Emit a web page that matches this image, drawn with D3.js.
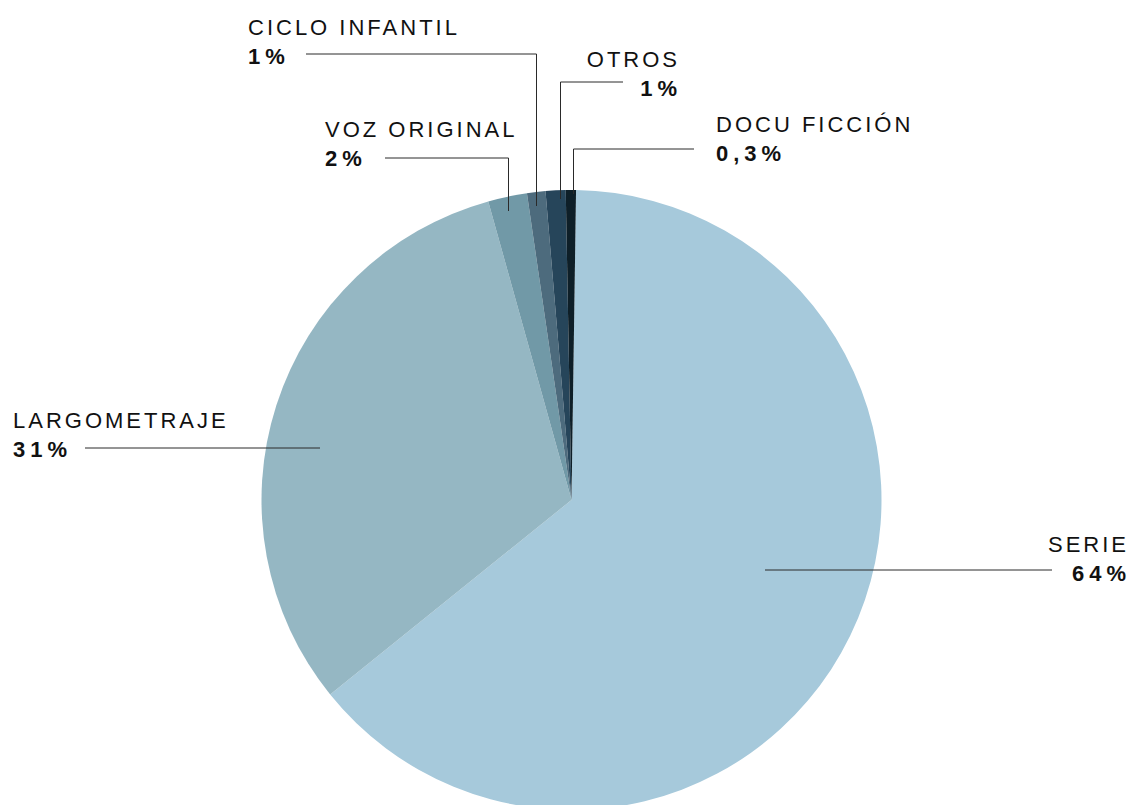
<!DOCTYPE html>
<html lang="es">
<head>
<meta charset="utf-8">
<script src="https://cdn.jsdelivr.net/npm/d3@7"></script>
<style>
  body { margin: 0; background: #fff; }
  text { font-family: "Liberation Sans", Arial, Helvetica, sans-serif; font-size: 22px; letter-spacing: 3px; fill: #111; }
  .pct { font-weight: bold; letter-spacing: 5px; }
</style>
</head>
<body>
<script>
// data (slice shares) and the printed labels
const categories = ["SERIE", "LARGOMETRAJE", "VOZ ORIGINAL", "CICLO INFANTIL", "OTROS", "DOCU FICCIÓN"];
const shares = [63.96, 31.47, 2.03, 0.96, 1.04, 0.53];
const pctLabels = ["64%", "31%", "2%", "1%", "1%", "0,3%"];
const colors = ["#a6c9db", "#95b7c3", "#7199a7", "#4d6b7d", "#26455a", "#0e1f28"];

// callout layout: label corner, anchor side, leader elbow
const callouts = [
  { tx: 1129, ty: 552, anchor: "end",   lineY: 570, lineX0: 1052, px: 765 },
  { tx: 13,   ty: 428, anchor: "start", lineY: 448, lineX0: 85,   px: 320 },
  { tx: 325,  ty: 137, anchor: "start", lineY: 158, lineX0: 385,  px: 508.5, py: 211 },
  { tx: 248,  ty: 35,  anchor: "start", lineY: 54,  lineX0: 306,  px: 536.5, py: 206 },
  { tx: 680,  ty: 67,  anchor: "end",   lineY: 82,  lineX0: 623,  px: 560.5, py: 199 },
  { tx: 716,  ty: 132, anchor: "start", lineY: 149, lineX0: 694,  px: 573.5, py: 194 }
];

const W = 1131, H = 805;
const cx = 571.5, cy = 500, R = 310;
const start = 0.84 * Math.PI / 180;

const svg = d3.select("body").append("svg")
  .attr("width", W).attr("height", H);

const pie = d3.pie().sort(null).value(d => d)
  .startAngle(start).endAngle(start + 2 * Math.PI);
const arc = d3.arc().innerRadius(0).outerRadius(R);

svg.append("g")
  .attr("transform", `translate(${cx},${cy})`)
  .selectAll("path")
  .data(pie(shares))
  .join("path")
  .attr("d", arc)
  .attr("fill", (d, i) => colors[i]);

// leader lines
const lines = svg.append("g").attr("fill", "none").attr("stroke", "#2a2a2a").attr("stroke-width", 1);
callouts.forEach((c, i) => {
  let pts;
  if (c.py == null) {
    pts = [[c.lineX0, c.lineY], [c.px, c.lineY]];
  } else {
    pts = [[c.lineX0, c.lineY], [c.px, c.lineY], [c.px, c.py]];
  }
  lines.append("path").attr("d", d3.line()(pts));
});

// labels
callouts.forEach((c, i) => {
  const g = svg.append("g");
  g.append("text")
    .attr("x", c.tx).attr("y", c.ty)
    .attr("text-anchor", c.anchor)
    .text(categories[i]);
  g.append("text")
    .attr("class", "pct")
    .attr("x", c.anchor === "end" ? c.tx + 2 : c.tx).attr("y", c.ty + 29)
    .attr("text-anchor", c.anchor)
    .text(pctLabels[i]);
});
</script>
</body>
</html>
